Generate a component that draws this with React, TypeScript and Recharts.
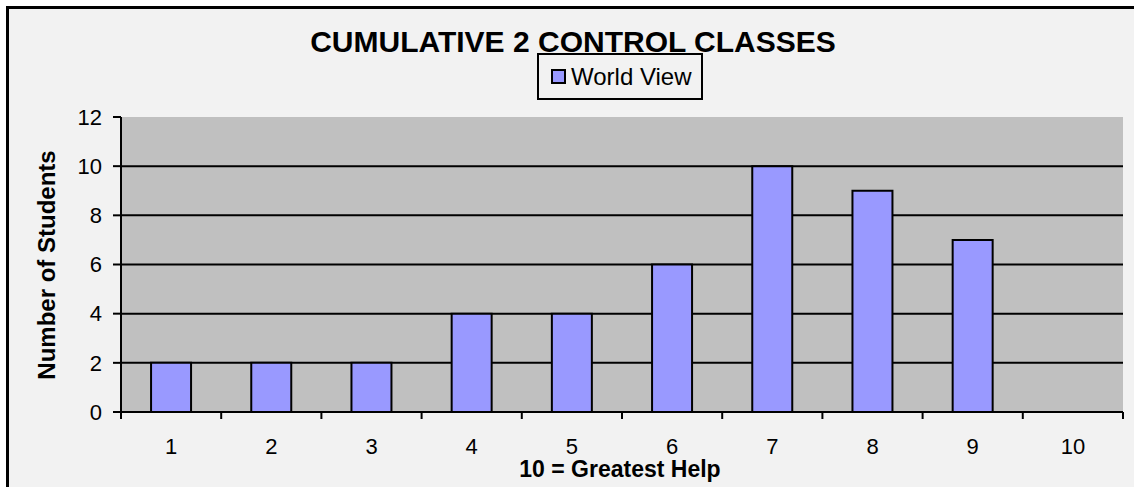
import React from "react";
import {
  BarChart,
  Bar,
  XAxis,
  YAxis,
  CartesianGrid,
} from "recharts";

const categories = ["1", "2", "3", "4", "5", "6", "7", "8", "9", "10"];
const worldView = [2, 2, 2, 4, 4, 6, 10, 9, 7, 0];
const yTicks = [0, 2, 4, 6, 8, 10, 12];
const seriesName = "World View";
const chartTitle = "CUMULATIVE 2 CONTROL CLASSES";
const xTitle = "10 = Greatest Help";
const yTitle = "Number of Students";

const data = categories.map((c, i) => ({ cat: c, value: worldView[i] }));

const W = 1134;
const H = 487;
const PLOT_LEFT = 121;
const PLOT_RIGHT = 1123;
const HALF_BAND = (PLOT_RIGHT - PLOT_LEFT) / categories.length / 2;
const FONT = "'Liberation Sans', Arial, sans-serif";

// recharts hands the tick a y already pushed down by tickSize + tickMargin
function XTick({ x, y, payload, index }: any) {
  const axisY = y - 8;
  const last = index === categories.length - 1;
  return (
    <g>
      <line x1={x - HALF_BAND} x2={x - HALF_BAND} y1={axisY} y2={axisY + 7} stroke="#000" strokeWidth={2} />
      {last && (
        <line x1={x + HALF_BAND} x2={x + HALF_BAND} y1={axisY} y2={axisY + 7} stroke="#000" strokeWidth={2} />
      )}
      <text x={x} y={axisY + 42} textAnchor="middle" fontSize={22} fontFamily={FONT} fill="#000">
        {payload.value}
      </text>
    </g>
  );
}

export default function App() {
  return (
    <div style={{ position: "absolute", left: 0, top: 0, width: W, height: H, background: "#fff", overflow: "hidden" }}>
      <div
        style={{
          position: "absolute",
          left: 6,
          top: 6,
          width: W,
          height: H,
          background: "#f2f2f2",
          borderLeft: "3px solid #000",
          borderTop: "3px solid #000",
        }}
      />
      <div style={{ position: "absolute", left: 0, top: 0 }}>
        <BarChart
          width={W}
          height={H}
          data={data}
          margin={{ top: 117, right: W - PLOT_RIGHT, bottom: 35, left: PLOT_LEFT - 60 }}
          barCategoryGap="30%"
        >
          <CartesianGrid
            vertical={false}
            fill="#c0c0c0"
            fillOpacity={1}
            stroke="#000"
            strokeWidth={2}
            horizontalValues={[2, 4, 6, 8, 10]}
          />
          <XAxis
            dataKey="cat"
            height={40}
            axisLine={{ stroke: "#000", strokeWidth: 2 }}
            tickLine={false}
            tick={<XTick />}
            interval={0}
          />
          <XAxis
            xAxisId="top"
            dataKey="cat"
            orientation="top"
            height={0}
            tick={false}
            tickLine={false}
            axisLine={{ stroke: "#808080", strokeWidth: 2 }}
          />
          <YAxis
            domain={[0, 12]}
            ticks={yTicks}
            width={60}
            interval={0}
            axisLine={{ stroke: "#000", strokeWidth: 2 }}
            tickLine={{ stroke: "#000", strokeWidth: 2 }}
            tickSize={8}
            tickMargin={11}
            tick={{ fontSize: 22, fontFamily: FONT, fill: "#000" }}
          />
          <YAxis
            yAxisId="right"
            orientation="right"
            domain={[0, 12]}
            width={0}
            tick={false}
            tickLine={false}
            axisLine={{ stroke: "#808080", strokeWidth: 2 }}
          />
          <Bar
            dataKey="value"
            name={seriesName}
            fill="#9999ff"
            stroke="#000"
            strokeWidth={2}
            isAnimationActive={false}
          />
        </BarChart>
      </div>
      <div
        style={{
          position: "absolute",
          left: 0,
          width: W,
          top: 25,
          textAlign: "center",
          paddingLeft: 12,
          boxSizing: "border-box",
          fontFamily: FONT,
          fontWeight: "bold",
          fontSize: 30,
          lineHeight: "34px",
          color: "#000",
        }}
      >
        {chartTitle}
      </div>
      <div
        style={{
          position: "absolute",
          left: 537,
          top: 53,
          width: 166,
          height: 47,
          boxSizing: "border-box",
          border: "2px solid #000",
          display: "flex",
          alignItems: "center",
          paddingLeft: 12,
          fontFamily: FONT,
          fontSize: 24,
          color: "#000",
          whiteSpace: "nowrap",
        }}
      >
        <span
          style={{
            display: "inline-block",
            flex: "none",
            width: 11,
            height: 11,
            background: "#9999ff",
            border: "2px solid #000",
            marginRight: 5,
          }}
        />
        {seriesName}
      </div>
      <div
        style={{
          position: "absolute",
          left: 420,
          width: 400,
          top: 458,
          textAlign: "center",
          fontFamily: FONT,
          fontWeight: "bold",
          fontSize: 23,
          lineHeight: "22px",
          color: "#000",
        }}
      >
        {xTitle}
      </div>
      <div
        style={{
          position: "absolute",
          left: 47 - 150,
          top: 265 - 13,
          width: 300,
          height: 26,
          lineHeight: "26px",
          textAlign: "center",
          transform: "rotate(-90deg)",
          fontFamily: FONT,
          fontWeight: "bold",
          fontSize: 24,
          color: "#000",
        }}
      >
        {yTitle}
      </div>
    </div>
  );
}
